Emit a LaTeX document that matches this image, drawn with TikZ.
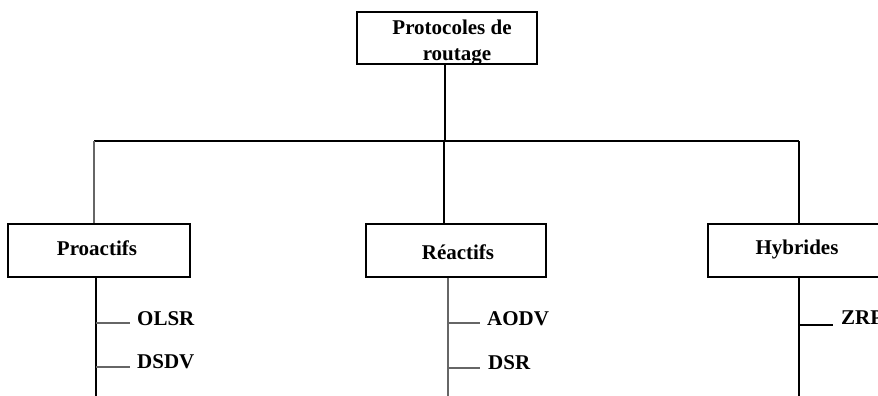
\documentclass[tikz,border=0pt]{standalone}
\usepackage{fontspec}
\setmainfont{Liberation Serif}
\begin{document}
\begin{tikzpicture}[x=1pt,y=-1pt,
  box/.style={draw=black,line width=1.2pt,fill=white,minimum height=53pt,inner sep=0pt},
  lbl/.style={font=\fontsize{21}{27}\selectfont\bfseries,inner sep=0pt,anchor=base},
  leaf/.style={font=\fontsize{21}{27}\selectfont\bfseries,inner sep=0pt,anchor=base west},
  trunk/.style={draw=black,line width=1.3pt},
  twig/.style={draw=black!60,line width=1.1pt}]
\useasboundingbox (0,0) rectangle (878,396);
\clip (0,0) rectangle (878,396);

% root
\node[box,minimum width=180pt,minimum height=52pt] (root) at (447,38) {};
\node[lbl,align=center] (rootlbl) at (452,61) {Protocoles de\\\hspace*{10pt}routage};

% second level
\node[box,minimum width=182pt] (pro) at (99,250.5) {};
\node[lbl] (prolbl) at (97,255) {Proactifs};
\node[box,minimum width=180pt] (rea) at (456,250.5) {};
\node[lbl] (realbl) at (458,259) {Réactifs};
\node[box,minimum width=182pt] (hyb) at (799,250.5) {};
\node[lbl] (hyblbl) at (797,254) {Hybrides};

% branching bus
\coordinate (j0) at (445,141);
\coordinate (jl) at (94,141);
\coordinate (jr) at (799,141);
\draw[trunk] (root.south -| j0) -- (j0);
\draw[trunk] (jl) -- (jr);
\draw[twig] (jl) -- (jl |- pro.north);
\draw[trunk] (444,141) -- (444,224);
\draw[trunk] (jr) -- (jr |- hyb.north);

% leaf stems
\coordinate (pb) at (96,396);
\coordinate (rb) at (448,396);
\coordinate (hb) at (799,396);
\draw[trunk] (pro.south -| pb) -- (pb);
\draw[twig] (rea.south -| rb) -- (rb);
\draw[trunk] (hyb.south -| hb) -- (hb);

% leaves
\coordinate (t1) at (96,323);
\coordinate (t2) at (96,367);
\coordinate (t3) at (448,323);
\coordinate (t4) at (448,368);
\coordinate (t5) at (799,325);
\node[leaf] (olsr) at (137,325) {OLSR};
\node[leaf] (dsdv) at (137,368) {DSDV};
\node[leaf] (aodv) at (487,325) {AODV};
\node[leaf] (dsr)  at (488,369) {DSR};
\node[leaf] (zrp)  at (841,324) {ZRP};
\draw[twig] (t1) -- ++(34,0);
\draw[twig] (t2) -- ++(34,0);
\draw[twig] (t3) -- ++(32,0);
\draw[twig] (t4) -- ++(32,0);
\draw[trunk] (t5) -- ++(34,0);
\end{tikzpicture}
\end{document}
